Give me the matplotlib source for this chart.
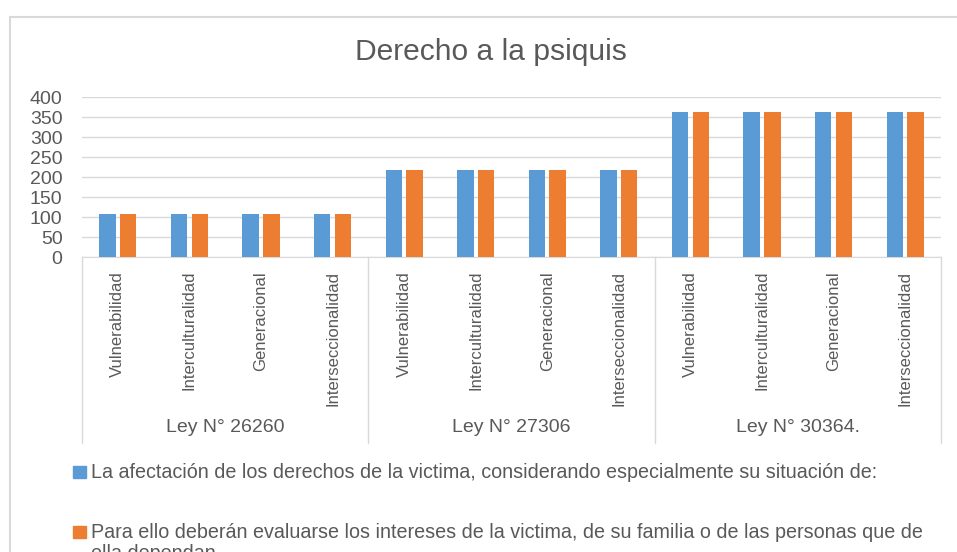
import numpy as np
import matplotlib
matplotlib.use('Agg')
import matplotlib.pyplot as plt
from matplotlib.patches import Rectangle
from matplotlib.transforms import blended_transform_factory

plt.rcParams['font.family'] = ['Liberation Sans', 'DejaVu Sans']

# data
laws = ['Ley N° 26260', 'Ley N° 27306', 'Ley N° 30364.']
factors = ['Vulnerabilidad', 'Interculturalidad', 'Generacional', 'Interseccionalidad']
afectacion = [108, 108, 108, 108, 218, 218, 218, 218, 362, 362, 362, 362]
intereses = [108, 108, 108, 108, 218, 218, 218, 218, 362, 362, 362, 362]
series_names = [
    'La afectación de los derechos de la victima, considerando especialmente su situación de:',
    'Para ello deberán evaluarse los intereses de la victima, de su familia o de las personas que de\nella dependan.',
]
yticks = [0, 50, 100, 150, 200, 250, 300, 350, 400]

blue = '#5B9BD5'
orange = '#ED7D31'
grey_txt = '#595959'
grid_c = '#D9D9D9'

W, H = 957, 552
fig = plt.figure(figsize=(W / 100, H / 100), dpi=100)
ax = fig.add_axes([82 / W, 1 - 257 / H, 859 / W, 160 / H])

x = np.arange(len(afectacion))
bw = 0.23
b1 = ax.bar(x - 0.145, afectacion, bw, color=blue, zorder=3)
b2 = ax.bar(x + 0.145, intereses, bw, color=orange, zorder=3)

ax.set_xlim(-0.5, len(x) - 0.5)
ax.set_ylim(0, 400)
ax.set_yticks(yticks)
ax.set_yticklabels([str(v) for v in yticks], fontsize=14, color=grey_txt)
ax.tick_params(axis='y', length=0, pad=14)
ax.set_xticks([])
ax.grid(axis='y', color=grid_c, linewidth=1, zorder=0)
for s in ['left', 'right', 'top']:
    ax.spines[s].set_visible(False)
ax.spines['bottom'].set_color(grid_c)

fig.text(491 / W, 1 - 52 / H, 'Derecho a la psiquis', ha='center', va='center',
         fontsize=21.6, color=grey_txt)

# multi level category axis
trans = blended_transform_factory(ax.transData, ax.transAxes)
px = 1 / 160  # one pixel in axes height units
for i in range(len(x)):
    ax.text(x[i], -14 * px, factors[i % len(factors)], rotation=90,
            ha='center', va='top', fontsize=12, color=grey_txt,
            transform=trans, clip_on=False)
for g, law in enumerate(laws):
    cx = g * len(factors) + (len(factors) - 1) / 2
    ax.text(cx, -171 * px, law, ha='center', va='center', fontsize=14,
            color=grey_txt, transform=trans, clip_on=False)
for b in np.arange(len(laws) + 1) * len(factors) - 0.5:
    ax.plot([b, b], [0, -186 * px], color=grid_c, linewidth=1,
            transform=trans, clip_on=False)

# legend, drawn by hand so the marker sits on the first line of a wrapped entry
leg_rows = [477.5, 537.5]  # first-line baselines in pixels from the top
line_h = 22
for name, col, base in zip(series_names, [blue, orange], leg_rows):
    fig.patches.append(Rectangle((73 / W, 1 - (base + 0.5) / H), 13 / W, 12 / H,
                                 transform=fig.transFigure, color=col))
    for k, line in enumerate(name.split('\n')):
        fig.text(91 / W, 1 - (base + k * line_h) / H, line, ha='left',
                 va='baseline', fontsize=14.2, color=grey_txt)

# chart frame
fig.patches.append(Rectangle((9.5 / W, -0.1), 2, 1.1 - 16.5 / H,
                             transform=fig.transFigure, fill=False,
                             edgecolor=grid_c, linewidth=1.5))

fig.savefig('out.png', dpi=100)
